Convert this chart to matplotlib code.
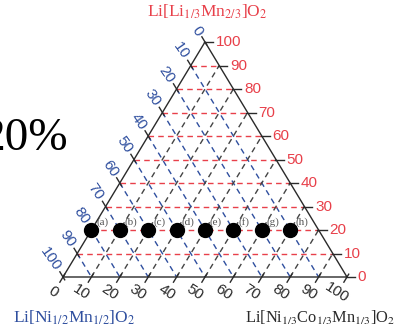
import numpy as np
import matplotlib
matplotlib.use('Agg')
import matplotlib.pyplot as plt

# ternary composition: t = Li[Li1/3Mn2/3]O2 (top), b = Li[Ni1/3Co1/3Mn1/3]O2 (bottom right)
levels = [10, 20, 30, 40, 50, 60, 70, 80, 90]
tick_values = [0, 10, 20, 30, 40, 50, 60, 70, 80, 90, 100]
point_t = [20, 20, 20, 20, 20, 20, 20, 20]
point_b = [0, 10, 20, 30, 40, 50, 60, 70]
point_labels = ['(a)', '(b)', '(c)', '(d)', '(e)', '(f)', '(g)', '(h)']

RED = '#e8404a'
BLUE = '#2f4f9f'
DARK = '#2a2a2a'

plt.rcParams['mathtext.fontset'] = 'stix'


def xy(b, t):
    return b + t / 2.0, t


fig = plt.figure(figsize=(3.98, 3.36), dpi=100)
ax = fig.add_axes([0, 0, 1, 1])
ax.set_xlim(-63 / 2.84, (398 - 63) / 2.84)
ax.set_ylim(-59 / 2.35, (336 - 59) / 2.35)
ax.axis('off')

dash = (0, (4, 3))
for v in levels:
    # red: constant top fraction
    x0, y0 = xy(0, v)
    x1, y1 = xy(100 - v, v)
    ax.plot([x0, x1], [y0, y1], color=RED, lw=1.0, ls=dash, zorder=1)
    # blue: constant left fraction
    x0, y0 = xy(0, 100 - v)
    x1, y1 = xy(100 - v, 0)
    ax.plot([x0, x1], [y0, y1], color=BLUE, lw=1.0, ls=dash, zorder=1)
    # black: constant bottom-right fraction
    x0, y0 = xy(v, 0)
    x1, y1 = xy(v, 100 - v)
    ax.plot([x0, x1], [y0, y1], color='#444444', lw=1.0, ls=dash, zorder=1)

# triangle frame
tri = [xy(0, 0), xy(100, 0), xy(0, 100), xy(0, 0)]
ax.plot([p[0] for p in tri], [p[1] for p in tri], color=DARK, lw=1.0, zorder=2)

for v in tick_values:
    # right ticks (horizontal, outward)
    xa, ya = xy(100 - v - 0.4, v)
    xb, yb = xy(100 - v + 2.8, v)
    ax.plot([xa, xb], [ya, yb], color=DARK, lw=1.0, zorder=2)
    ax.annotate(str(v), (xb, yb), xytext=(2, 0), textcoords='offset points',
                ha='left', va='center', color=RED, fontsize=11,
                family='Liberation Sans')
    # left ticks (along blue lines)
    d0, d1 = -1.2, 2.2
    ax.plot([-d0 + (100 - v + d0) / 2.0, -d1 + (100 - v + d1) / 2.0],
            [100 - v + d0, 100 - v + d1], color=DARK, lw=1.0, zorder=2)
    lx, ly = xy(0, 100 - v)
    ax.annotate(str(v), (lx, ly), xytext=(-3.6, 5.6), textcoords='offset points',
                ha='right', va='center', rotation=-55, rotation_mode='anchor',
                color=BLUE, fontsize=11, family='Liberation Sans')
    # bottom ticks (along black lines)
    ax.plot([v + 1.2 / 2.0, v - 2.2 / 2.0], [1.2, -2.2], color=DARK, lw=1.0, zorder=2)
    ax.annotate(str(v), (v, 0), xytext=(-7.2, -11), textcoords='offset points',
                ha='center', va='center', rotation=-33,
                color=DARK, fontsize=11, family='Liberation Sans')

# composition points
for b, t, lab in zip(point_b, point_t, point_labels):
    px, py = xy(b, t)
    ax.plot(px, py, 'o', color='black', markersize=10, zorder=4)
    ax.annotate(lab, (px, py), xytext=(3.5, 5.5), textcoords='offset points',
                ha='left', va='center', fontsize=8, color='#555555',
                family='Liberation Serif', zorder=5)

fig.text(207 / 398, 1 - 12 / 336, r'Li[Li$_{1/3}$Mn$_{2/3}$]O$_2$', ha='center',
         va='center', color=RED, fontsize=12.5, family='Liberation Serif')
fig.text(74 / 398, 1 - 318 / 336, r'Li[Ni$_{1/2}$Mn$_{1/2}$]O$_2$', ha='center',
         va='center', color=BLUE, fontsize=12.5, family='Liberation Serif')
fig.text(395 / 398, 1 - 318 / 336, r'Li[Ni$_{1/3}$Co$_{1/3}$Mn$_{1/3}$]O$_2$',
         ha='right', va='center', color=DARK, fontsize=11.8,
         family='Liberation Serif')
fig.text(68 / 398, 1 - 139 / 336, '20%', ha='right', va='center', color='black',
         fontsize=34, family='Liberation Serif')

fig.savefig('out.png', dpi=100)
